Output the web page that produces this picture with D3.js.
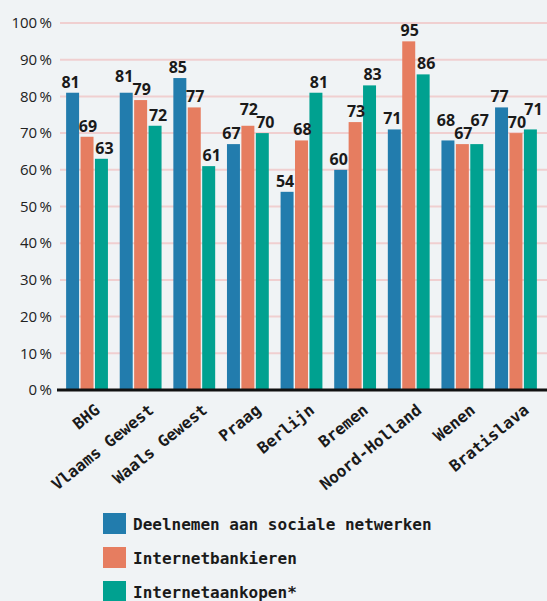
<!DOCTYPE html>
<html>
<head>
<meta charset="utf-8">
<script src="https://cdn.jsdelivr.net/npm/d3@7"></script>
<style>
  body { margin: 0; background: #f0f3f5; }
  svg { display: block; }
</style>
</head>
<body>
<div id="chart"></div>
<script>
// regions and series values (percent)
const regions = ['BHG', 'Vlaams Gewest', 'Waals Gewest', 'Praag', 'Berlijn', 'Bremen', 'Noord-Holland', 'Wenen', 'Bratislava'];
const seriesNames = ['Deelnemen aan sociale netwerken', 'Internetbankieren', 'Internetaankopen*'];
const sociaal = [81, 81, 85, 67, 54, 60, 71, 68, 77];
const bankieren = [69, 79, 77, 72, 68, 73, 95, 67, 70];
const aankopen = [63, 72, 61, 70, 81, 83, 86, 67, 71];
const yTicks = [0, 10, 20, 30, 40, 50, 60, 70, 80, 90, 100];

const colors = ['#227cad', '#e67d60', '#00a190'];
const seriesValues = [sociaal, bankieren, aankopen];

const width = 547, height = 601;
const margin = { top: 23, right: 0, bottom: 211, left: 57 };

const svg = d3.select('#chart').append('svg')
    .attr('width', width)
    .attr('height', height);

const y = d3.scaleLinear()
    .domain([0, 100])
    .range([height - margin.bottom, margin.top]);

const x0 = d3.scaleBand()
    .domain(regions)
    .range([margin.left, width - 1])
    .paddingInner(0.22)
    .paddingOuter(0.17);

const x1 = d3.scaleBand()
    .domain(d3.range(seriesNames.length))
    .range([0, x0.bandwidth()])
    .paddingInner(0.1);

// gridlines
svg.append('g')
    .selectAll('line')
    .data(yTicks.filter(d => d > 0))
    .join('line')
    .attr('x1', 60)
    .attr('x2', width)
    .attr('y1', d => y(d))
    .attr('y2', d => y(d))
    .style('stroke', '#f0cfd0')
    .style('stroke-width', 2);

// y labels
svg.append('g')
    .selectAll('text')
    .data(yTicks)
    .join('text')
    .attr('x', 52)
    .attr('y', d => y(d))
    .attr('dy', '.35em')
    .attr('text-anchor', 'end')
    .style('font-family', '"Open Sans", "Noto Sans", sans-serif')
    .style('font-size', '15px')
    .style('fill', '#222')
    .text(d => d + '\u2009%');

// bars
const rows = regions.map((r, i) => ({ region: r, values: seriesValues.map(s => s[i]) }));

const group = svg.append('g')
    .selectAll('g')
    .data(rows)
    .join('g')
    .attr('transform', d => `translate(${x0(d.region)},0)`);

group.selectAll('rect')
    .data(d => d.values.map((v, k) => ({ k, v })))
    .join('rect')
    .attr('x', d => x1(d.k))
    .attr('width', x1.bandwidth())
    .attr('y', d => y(d.v))
    .attr('height', d => y(0) - y(d.v))
    .style('fill', d => colors[d.k]);

// value labels: lowest bar first, a label that would hit one already placed goes up
const labelW = 19, labelH = 13;
const nudge = [-2, 1, 3];
function placeLabels(values) {
    const order = values.map((v, k) => ({ k, v }))
        .sort((a, b) => a.v - b.v || a.k - b.k);
    const placed = [];
    order.forEach(({ k, v }) => {
        const lx = x1(k) + x1.bandwidth() / 2 + nudge[k];
        let ly = y(v) - 5;
        let moved = true;
        while (moved) {
            moved = false;
            placed.forEach(p => {
                if (Math.abs(p.x - lx) < labelW && Math.abs(p.y - ly) < labelH) {
                    ly = p.y - labelH;
                    moved = true;
                }
            });
        }
        placed.push({ k, v, x: lx, y: ly });
    });
    return placed;
}

group.selectAll('text')
    .data(d => placeLabels(d.values))
    .join('text')
    .attr('x', d => d.x)
    .attr('y', d => d.y)
    .attr('text-anchor', 'middle')
    .style('font-family', '"Noto Sans", sans-serif')
    .style('font-weight', 'bold')
    .style('font-size', '16px')
    .style('fill', '#1a1a1a')
    .text(d => d.v);

// baseline
svg.append('line')
    .attr('x1', 57)
    .attr('x2', width)
    .attr('y1', y(0))
    .attr('y2', y(0))
    .style('stroke', '#111')
    .style('stroke-width', 3);

// x labels, rotated
svg.append('g')
    .selectAll('text')
    .data(regions)
    .join('text')
    .attr('transform', d => `translate(${x0(d) + x0.bandwidth() / 2 + 14},${y(0) + 22}) rotate(-39)`)
    .attr('text-anchor', 'end')
    .style('font-family', '"DejaVu Sans Mono", monospace')
    .style('font-weight', 'bold')
    .style('font-size', '16px')
    .style('fill', '#1a1a1a')
    .text(d => d);

// legend
const legend = svg.append('g')
    .selectAll('g')
    .data(seriesNames)
    .join('g')
    .attr('transform', (d, i) => `translate(103,${524 + i * 34})`);

legend.append('rect')
    .attr('x', 0)
    .attr('y', -11)
    .attr('width', 23)
    .attr('height', 21)
    .style('fill', (d, i) => colors[i]);

legend.append('text')
    .attr('x', 30)
    .attr('dy', '.35em')
    .style('font-family', '"DejaVu Sans Mono", monospace')
    .style('font-weight', 'bold')
    .style('font-size', '16px')
    .style('fill', '#1a1a1a')
    .text(d => d);
</script>
</body>
</html>
